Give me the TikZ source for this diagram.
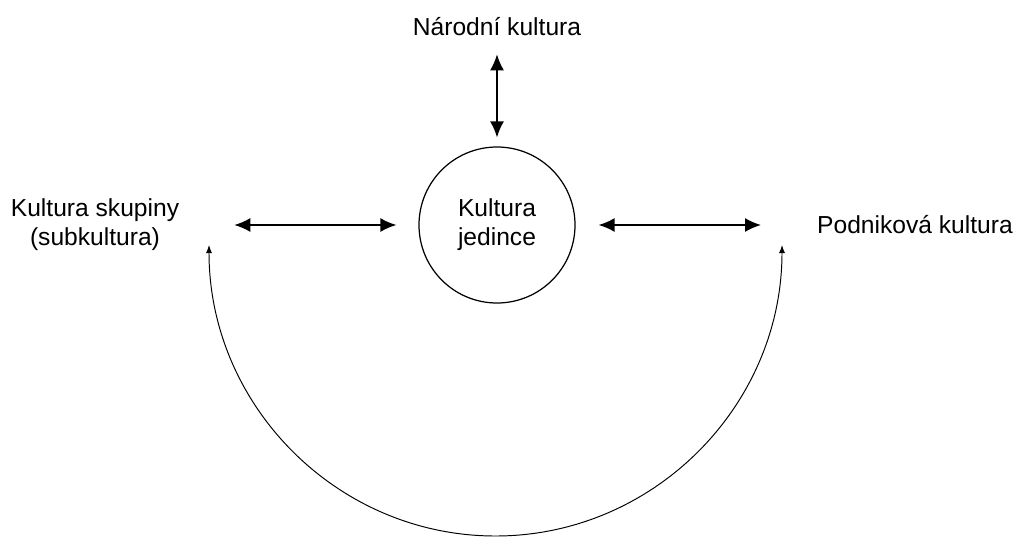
\documentclass[tikz,border=0pt]{standalone}
\usepackage{fontspec}
\setmainfont{Liberation Sans}
\usetikzlibrary{arrows.meta}

\begin{document}
\begin{tikzpicture}[x=0.2mm, y=-0.2mm, font=\fontsize{14}{16.5}\selectfont,
    twoway/.style={{Latex[length=3.2mm,width=2.8mm]}-{Latex[length=3.2mm,width=2.8mm]}, line width=0.9pt},
    thinway/.style={{Latex[length=1.6mm,width=1.2mm]}-{Latex[length=1.6mm,width=1.2mm]}, line width=0.55pt}]
            \useasboundingbox (0,0) rectangle (1016,539);
            \node[draw, circle, line width=0.7pt, minimum size=31.2mm, align=center] (ind) at (497,225)
                {Kultura\\ jedince};
            \node (narod) at (497,27) {Národní kultura};
            \node[align=center] (skup) at (95,225) {Kultura skupiny\\ (subkultura)};
            \node (podnik) at (915,225) {Podniková kultura};
            \coordinate (arcL) at (209,245);
            \coordinate (arcR) at (782,245);
            \draw[twoway, shorten <=2.4mm, shorten >=1.8mm] (narod.south) -- (ind.north);
            \draw[twoway, shorten <=9.8mm, shorten >=4.4mm] (skup.east) -- (ind.west);
            \draw[twoway, shorten <=4.6mm, shorten >=10mm] (ind.east) -- (podnik.west);
            \draw[thinway] (arcL) arc[start angle=180, end angle=0, x radius=286.5, y radius=291];
        \end{tikzpicture}
\end{document}
